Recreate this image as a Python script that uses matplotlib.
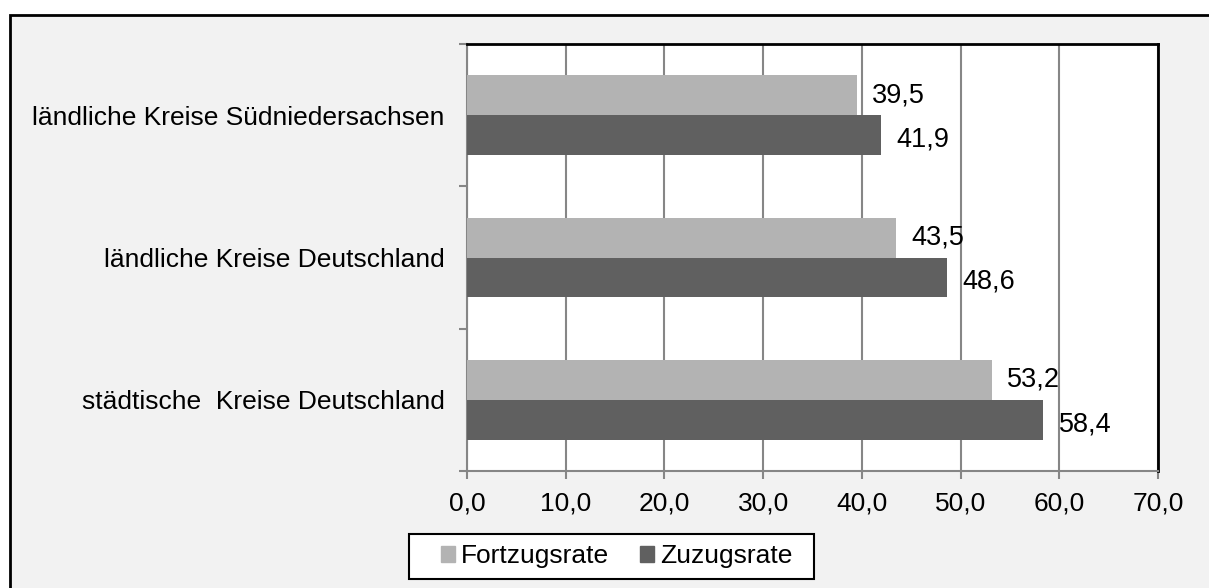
import numpy as np
import matplotlib.pyplot as plt
from matplotlib.patches import Patch, Rectangle

plt.rcParams['font.family'] = ['Liberation Sans', 'DejaVu Sans']

kategorien = ['städtische  Kreise Deutschland', 'ländliche Kreise Deutschland',
              'ländliche Kreise Südniedersachsen']
fortzug = [53.2, 43.5, 39.5]  # Fortzugsrate
zuzug = [58.4, 48.6, 41.9]    # Zuzugsrate

hell = '#b3b3b3'
dunkel = '#606060'
grau = '#868686'

W, H = 1209, 588
fig = plt.figure(figsize=(W / 100, H / 100), dpi=100)
fig.patch.set_facecolor('white')
# grauer Hintergrund mit Rahmen
fig.patches.append(Rectangle((10 / W, -0.01), 1.0, 1 - 15 / H + 0.01,
                             transform=fig.transFigure, facecolor='#f2f2f2',
                             edgecolor='black', linewidth=2, zorder=-10))

ax = fig.add_axes([467 / W, 1 - 471 / H, 691 / W, 427 / H])
ax.set_facecolor('white')

y = np.arange(len(kategorien))
h = 0.281
ax.barh(y + h / 2, fortzug, height=h, color=hell, label='Fortzugsrate', zorder=3)
ax.barh(y - h / 2, zuzug, height=h, color=dunkel, label='Zuzugsrate', zorder=3)

for yi, v in zip(y, fortzug):
    ax.annotate(f'{v:.1f}'.replace('.', ','), (v, yi + h / 2), xytext=(11, 0),
                textcoords='offset points', va='center', ha='left', fontsize=19.5)
for yi, v in zip(y, zuzug):
    ax.annotate(f'{v:.1f}'.replace('.', ','), (v, yi - h / 2 - 0.03), xytext=(11, 0),
                textcoords='offset points', va='center', ha='left', fontsize=19.5)

ax.set_xlim(0, 70)
ax.set_ylim(-0.5, 2.5)
ax.set_xticks(np.arange(0, 71, 10))
ax.set_xticklabels([f'{t:.1f}'.replace('.', ',') for t in np.arange(0, 71, 10)], fontsize=19)
ax.set_yticks(y)
ax.set_yticklabels(kategorien, fontsize=19)
ax.set_yticks([-0.5, 0.5, 1.5, 2.5], minor=True)
ax.tick_params(axis='y', which='major', length=0, pad=16)
ax.tick_params(axis='y', which='minor', length=6, width=1.5, color=grau, direction='out')
ax.tick_params(axis='x', length=6, width=1.5, color=grau, direction='out', pad=9)

ax.grid(axis='x', color=grau, linewidth=1.5, zorder=0)
ax.spines['left'].set_color(grau)
ax.spines['bottom'].set_color(grau)
ax.spines['left'].set_linewidth(1.5)
ax.spines['bottom'].set_linewidth(1.5)
ax.spines['top'].set_linewidth(2)
ax.spines['right'].set_linewidth(2)

# Legendenrahmen
fig.patches.append(Rectangle((409 / W, 1 - 579 / H), 405 / W, 45 / H,
                             transform=fig.transFigure, facecolor='white',
                             edgecolor='black', linewidth=1.5, zorder=-5))
handles = [Patch(color=hell, label='Fortzugsrate'), Patch(color=dunkel, label='Zuzugsrate')]
fig.legend(handles=handles, loc='center', bbox_to_anchor=(616.5 / W, 1 - 556 / H),
           ncol=2, fontsize=19, frameon=False, handlelength=0.55, handleheight=0.55,
           handletextpad=0.22, columnspacing=1.15, borderpad=0.0)

fig.savefig('out.png', dpi=100)
